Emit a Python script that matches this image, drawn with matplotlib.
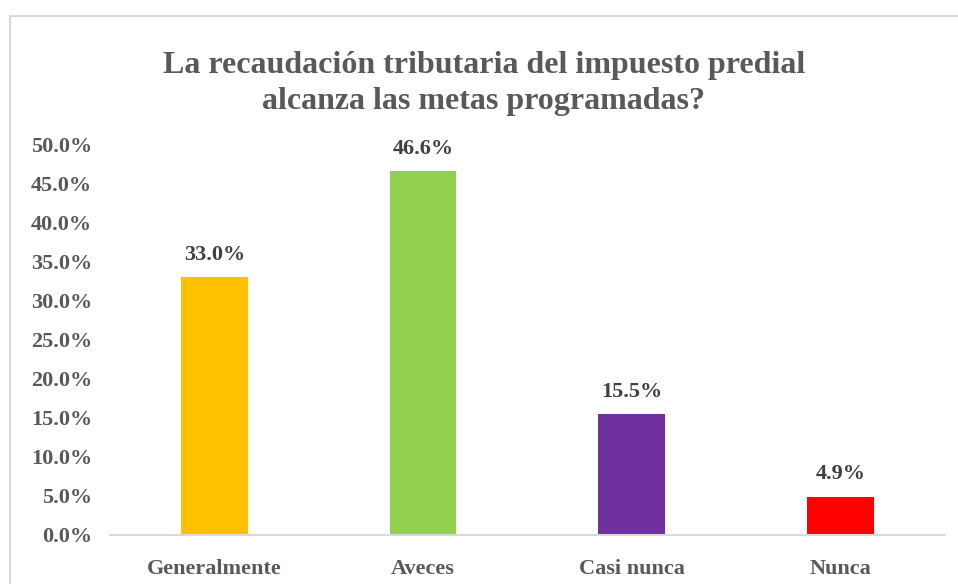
import matplotlib
matplotlib.use('Agg')
import matplotlib.pyplot as plt
from matplotlib.patches import Rectangle

categorias = ['Generalmente', 'Aveces', 'Casi nunca', 'Nunca']
valores = [33.0, 46.6, 15.5, 4.9]
colores = ['#FFC000', '#92D050', '#7030A0', '#FF0000']
ticks = [0, 5, 10, 15, 20, 25, 30, 35, 40, 45, 50]

plt.rcParams['font.family'] = ['Liberation Serif', 'DejaVu Serif']
plt.rcParams['font.weight'] = 'bold'

fig = plt.figure(figsize=(9.58, 5.84), dpi=100)
fig.patch.set_facecolor('white')

# marco del grafico
fig.patches.append(Rectangle((10 / 958, -0.1), 1.2, 1 - 16 / 584 + 0.1,
                             transform=fig.transFigure, fill=False,
                             edgecolor='#D9D9D9', linewidth=1.5))

ax = fig.add_axes([0.115, 0.084, 0.871, 0.668])
x = range(len(categorias))
barras = ax.bar(x, valores, width=0.32, color=colores)

for xi, v in zip(x, valores):
    ax.text(xi, v + 1.6, f'{v:.1f}%', ha='center', va='bottom',
            fontsize=16, fontweight='bold', color='#404040')

ax.set_xlim(-0.5, 3.5)
ax.set_ylim(0, 50)
ax.set_yticks(ticks)
ax.set_yticklabels([f'{t:.1f}%' for t in ticks])
ax.set_xticks(list(x))
ax.set_xticklabels(categorias)
ax.tick_params(axis='both', length=0, labelsize=16, labelcolor='#595959')
ax.tick_params(axis='y', pad=13)
ax.tick_params(axis='x', pad=17)
for lbl in ax.get_xticklabels() + ax.get_yticklabels():
    lbl.set_fontweight('bold')

for s in ['top', 'right', 'left']:
    ax.spines[s].set_visible(False)
ax.spines['bottom'].set_color('#D9D9D9')
ax.spines['bottom'].set_linewidth(1.5)

fig.text(0.505, 0.857, 'La recaudación tributaria del impuesto predial\nalcanza las metas programadas?',
         ha='center', va='center', fontsize=23, fontweight='bold',
         color='#595959', linespacing=1.35)

fig.savefig('out.png', dpi=100)
